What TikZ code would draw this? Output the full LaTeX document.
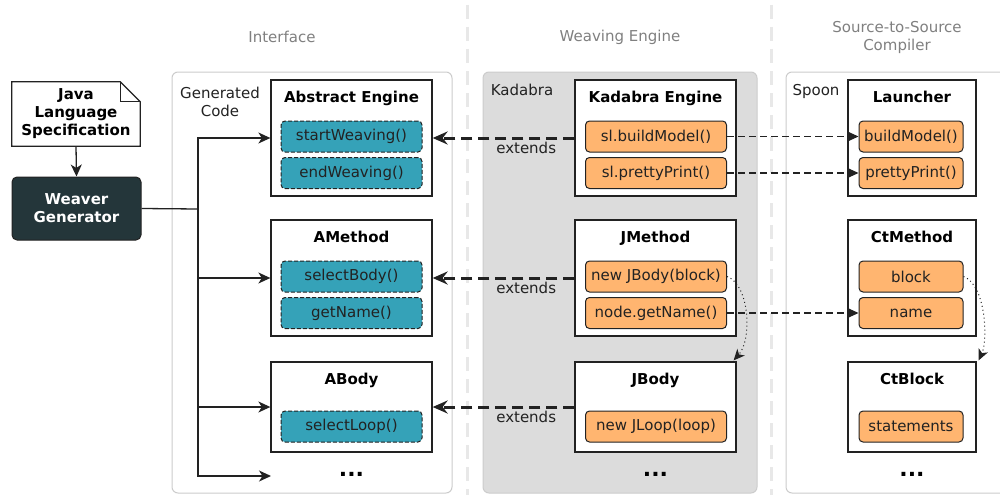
\documentclass[tikz,border=0pt]{standalone}
\usepackage{fontspec}
\setmainfont{DejaVu Sans}
\usetikzlibrary{arrows.meta,backgrounds}
\definecolor{mteal}{RGB}{53,162,184}
\definecolor{morange}{RGB}{255,181,112}
\definecolor{kgray}{RGB}{220,220,220}
\definecolor{pborder}{RGB}{204,204,204}
\definecolor{hgray}{RGB}{128,128,128}
\definecolor{sepgray}{RGB}{232,232,232}
\definecolor{gendark}{RGB}{36,54,58}
\definecolor{ink}{RGB}{34,34,34}
\begin{document}
\begin{tikzpicture}[x=1pt,y=-1pt,
  font=\fontsize{15}{18}\selectfont,
  panel/.style={draw=pborder, line width=1pt, rounded corners=6pt, minimum height=421pt, inner sep=0pt},
  clsbox/.style={draw=ink, line width=1.3pt, fill=white, minimum width=161pt, minimum height=116pt, inner sep=0pt},
  ttl/.style={font=\fontsize{15}{18}\selectfont\bfseries, anchor=base, inner sep=0pt},
  meth/.style={draw=ink, line width=1pt, rounded corners=4pt, minimum height=31pt, minimum width=141pt, inner sep=1pt, text=ink},
  imeth/.style={meth, fill=mteal, dash pattern=on 4pt off 2pt},
  kmeth/.style={meth, fill=morange},
  hdr/.style={text=hgray, align=center, inner sep=0pt},
  plabel/.style={text=ink, align=center, inner sep=0pt},
  dots/.style={font=\fontsize{22}{24}\selectfont\bfseries, inner sep=0pt},
  conn/.style={draw=ink, line width=1.3pt, -{Stealth[length=12pt,width=11pt,inset=3.5pt]}},
  ext/.style={draw=ink, line width=3pt, dash pattern=on 11pt off 6pt, -{Stealth[length=15pt,width=13pt,inset=5pt]}},
  calls/.style={draw=ink, line width=1.2pt, dash pattern=on 7pt off 4pt, -{Stealth[length=11pt,width=10pt,inset=1.5pt]}},
  dot/.style={draw=ink, line width=1pt, dash pattern=on 1pt off 3pt, -{Stealth[length=11pt,width=10pt,inset=3pt]}},
  sep/.style={draw=sepgray, line width=3pt, dash pattern=on 14pt off 8pt}
]
\useasboundingbox (0,0) rectangle (1000,495);

% separators
\coordinate (s1t) at (467,5); \coordinate (s1b) at (467,495);
\coordinate (s2t) at (771,5); \coordinate (s2b) at (771,495);
\draw[sep] (s1t) -- (s1b);
\draw[sep] (s2t) -- (s2b);

% headers
\node[hdr] (h1) at (282,37) {Interface};
\node[hdr] (h2) at (620,37) {Weaving Engine};
\node[hdr] (h3) at (897,37) {Source-to-Source\\Compiler};

% panels
\node[panel, fill=white, minimum width=280pt] (pI) at (312,282.5) {};
\node[panel, fill=kgray, minimum width=274pt] (pK) at (620,282.5) {};
\node[panel, fill=white, minimum width=230pt] (pS) at (901,282.5) {};
\node[plabel] (lI) at (220,102) {Generated\\Code};
\node[plabel, anchor=base] (lK) at (522,95) {Kadabra};
\node[plabel, anchor=base] (lS) at (816,95) {Spoon};

% Java Language Specification note
\node[minimum width=128pt, minimum height=64pt, inner sep=0pt, align=center,
      font=\fontsize{15}{18}\selectfont\bfseries] (jls) at (76,114) {Java\\Language\\Specification};
\begin{scope}[on background layer]
\fill[white] (0,0) rectangle (1000,495);
\draw[draw=ink, line width=1.2pt, fill=white, line join=miter]
  (jls.north west) -- ([xshift=-20pt]jls.north east) -- ([yshift=-20pt]jls.north east)
  -- (jls.south east) -- (jls.south west) -- cycle;
\end{scope}
\draw[draw=ink, line width=1.2pt, line join=miter]
  ([xshift=-20pt]jls.north east) -- ([xshift=-20pt,yshift=-20pt]jls.north east) -- ([yshift=-20pt]jls.north east);

% Weaver Generator
\node[draw=ink, line width=1pt, fill=gendark, rounded corners=5pt, minimum width=129pt, minimum height=63pt,
      text=white, align=center, font=\fontsize{15}{18}\selectfont\bfseries] (gen) at (76.5,208.5) {Weaver\\Generator};
\draw[conn] (jls.south) -- (gen.north);

% Interface column
\node[clsbox] (ae) at (351.5,138) {};
\node[ttl] (aet) at (351.5,102) {Abstract Engine};
\node[imeth] (sw) at (351.5,136.5) {startWeaving()};
\node[imeth] (ew) at (351.5,173) {endWeaving()};

\node[clsbox] (am) at (351.5,278) {};
\node[ttl] (amt) at (351.5,242) {AMethod};
\node[imeth] (sb) at (351.5,276.5) {selectBody()};
\node[imeth] (gn) at (351.5,313) {getName()};

\node[clsbox, minimum height=90pt] (ab) at (351.5,407) {};
\node[ttl] (abt) at (351.5,384) {ABody};
\node[imeth] (sl) at (351.5,426.5) {selectLoop()};
\node[dots] (d1) at (351.5,474) {...};

% Weaving engine column
\node[clsbox] (ke) at (655.5,138) {};
\node[ttl] (ket) at (655.5,102) {Kadabra Engine};
\node[kmeth] (bm) at (656,136.5) {sl.buildModel()};
\node[kmeth] (pp) at (656,173) {sl.prettyPrint()};

\node[clsbox] (jm) at (655.5,278) {};
\node[ttl] (jmt) at (655.5,242) {JMethod};
\node[kmeth] (nb) at (656,276.5) {new JBody(block)};
\node[kmeth] (ng) at (656,313) {node.getName()};

\node[clsbox, minimum height=90pt] (jb) at (655.5,407) {};
\node[ttl] (jbt) at (655.5,384) {JBody};
\node[kmeth] (nl) at (656,426.5) {new JLoop(loop)};
\node[dots] (d2) at (655.5,474) {...};

% Spoon column
\node[clsbox, minimum width=128pt] (la) at (912,138) {};
\node[ttl] (lat) at (912,102) {Launcher};
\node[kmeth, minimum width=104pt] (lbm) at (911,136.5) {buildModel()};
\node[kmeth, minimum width=104pt] (lpp) at (911,173) {prettyPrint()};

\node[clsbox, minimum width=128pt] (cm) at (912,278) {};
\node[ttl] (cmt) at (912,242) {CtMethod};
\node[kmeth, minimum width=104pt] (cb) at (911,276.5) {block};
\node[kmeth, minimum width=104pt] (cn) at (911,313) {name};

\node[clsbox, minimum width=128pt, minimum height=90pt] (ct) at (912,407) {};
\node[ttl] (ctt) at (912,384) {CtBlock};
\node[kmeth, minimum width=104pt] (cs) at (911,426.5) {statements};
\node[dots] (d3) at (912,474) {...};

% generator connections
\coordinate (j) at (198,209);
\coordinate (dA) at (271,476);
\draw[draw=ink, line width=1.3pt] (gen.east) -- (j);
\draw[conn] (j) |- (ae.west);
\draw[conn] (j) |- (am.west);
\draw[conn] (j) |- (ab.west);
\draw[conn] (j) |- (dA);

% extends
\draw[ext] (ke.west) -- (ae.east) node[pos=0.34, anchor=north, inner sep=3pt, text=ink] (x1) {extends};
\draw[ext] (jm.west) -- (am.east) node[pos=0.34, anchor=north, inner sep=3pt, text=ink] (x2) {extends};
\draw[ext] (jb.west) -- (ab.east) node[pos=0.34, anchor=north, inner sep=3pt, text=ink] (x3) {extends};

% calls
\draw[calls] (bm.east) -- (lbm.west);
\draw[calls] (pp.east) -- (lpp.west);
\draw[calls] (ng.east) -- (cn.west);

% dotted
\draw[dot] (nb.east) .. controls (750,285) and (752,340) .. ([xshift=-3pt,yshift=1pt]jb.north east);
\draw[dot] (cb.east) .. controls (986,285) and (988,340) .. ([xshift=2pt,yshift=1pt]ct.north east);
\end{tikzpicture}
\end{document}
